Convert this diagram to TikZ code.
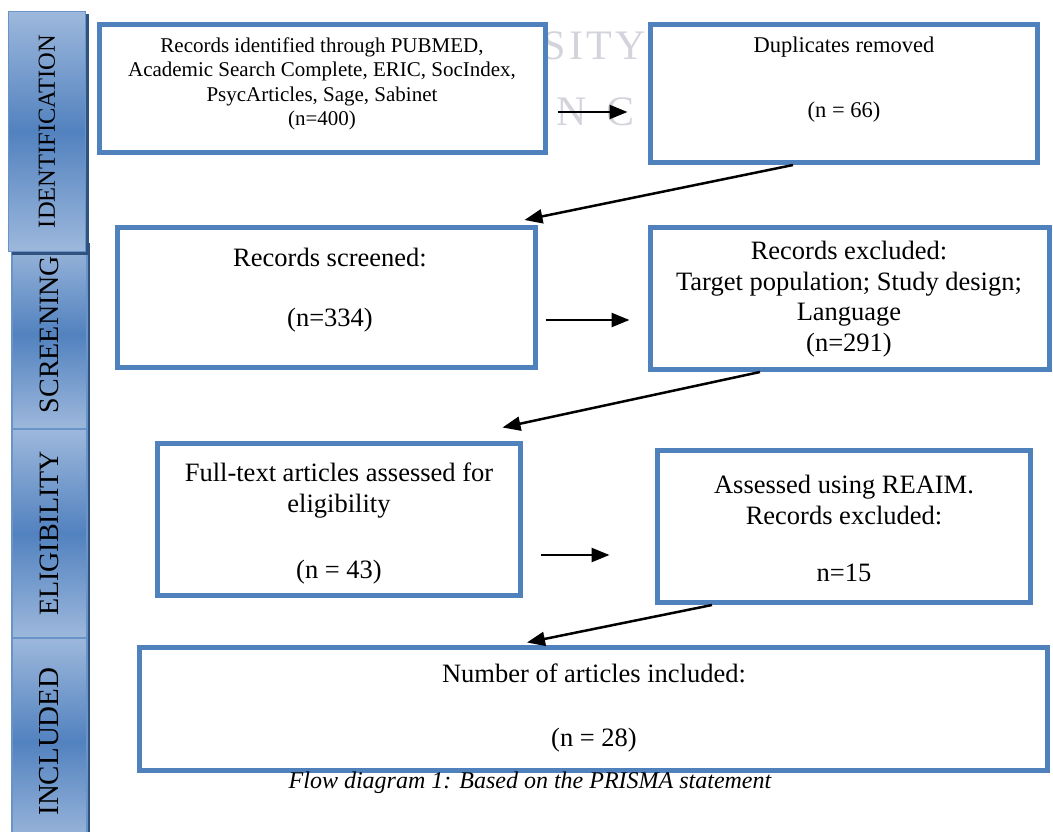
\documentclass[tikz,border=0pt]{standalone}
\usepackage{fontspec}
\setmainfont{Liberation Serif}
\usetikzlibrary{arrows.meta,positioning,shadows}

\definecolor{boxblue}{HTML}{4F81BD}
\definecolor{tablight}{HTML}{9DB8DC}
\definecolor{tabdark}{HTML}{5282BF}
\definecolor{tabedge}{HTML}{6A93C8}
\definecolor{tabshadow}{HTML}{30527F}
\definecolor{wmgray}{HTML}{D3D3DB}

\tikzset{
  flowbox/.style={draw=boxblue, line width=5pt, fill=white, inner sep=0pt},
  bigtxt/.style={align=center, inner sep=0pt, font=\fontsize{26.5}{30.5}\selectfont},
  smalltxt/.style={align=center, inner sep=0pt, font=\fontsize{21}{24.5}\selectfont},
  flowarrow/.style={line width=2.5pt, -{Triangle[length=18pt,width=14pt]}},
  stagetab/.style={draw=tabedge, line width=1.5pt, inner sep=0pt,
    top color=tablight, bottom color=tablight, middle color=tabdark,
    drop shadow={shadow xshift=3pt, shadow yshift=-3pt, fill=tabshadow, opacity=1}},
  watermark/.style={text=wmgray, inner sep=0pt, font=\fontsize{42}{44}\selectfont\addfontfeature{LetterSpace=8}}
}

\begin{document}
\begin{tikzpicture}[x=1pt, y=-1pt]
    \useasboundingbox (0,0) rectangle (1053,832);

    % faint watermark, only the part left uncovered
    \node[watermark, anchor=east] (wmtop) at (646,46) {SITY};
    \node[watermark, anchor=east] (wmleft) at (587,112) {N};
    \node[watermark, anchor=west] (wmright) at (606,112) {C};

    % stage tabs
    \node[stagetab, minimum width=75, minimum height=189, font=\fontsize{28}{30}\selectfont] (screentab) at (49.5,334.5) {\rotatebox{90}{SCREENING}};
    \node[stagetab, minimum width=75, minimum height=209, font=\fontsize{28}{30}\selectfont] (eligtab) at (49.5,533.5) {\rotatebox{90}{ELIGIBILITY}};
    \node[stagetab, minimum width=75, minimum height=207, font=\fontsize{29}{30}\selectfont] (incltab) at (49.5,741.5) {\rotatebox{90}{INCLUDED}};
    \node[stagetab, minimum width=77, minimum height=240, font=\fontsize{24.5}{26}\selectfont] (identtab) at (47,131.5) {\rotatebox{90}{IDENTIFICATION}};

    % flow boxes
    \node[flowbox, minimum width=446, minimum height=128] (ident) at (322.5,88.5) {};
    \node[flowbox, minimum width=387, minimum height=138] (dup) at (844,93.5) {};
    \node[flowbox, minimum width=418, minimum height=140] (scr) at (326.5,297.5) {};
    \node[flowbox, minimum width=399, minimum height=142] (excl) at (850,298.5) {};
    \node[flowbox, minimum width=363, minimum height=152] (full) at (339,519.5) {};
    \node[flowbox, minimum width=373, minimum height=152] (assess) at (844,526.5) {};
    \node[flowbox, minimum width=908, minimum height=123] (incl) at (593.5,709) {};

    % box texts
    \node[smalltxt] (identtxt) at (322,84) {Records identified through PUBMED,\\Academic Search Complete, ERIC, SocIndex,\\PsycArticles, Sage, Sabinet\\(n=400)};
    \node[smalltxt, font=\fontsize{22.5}{25.5}\selectfont] (duptxt) at (844,79.5) {Duplicates removed\\[39.5pt](n = 66)};
    \node[bigtxt] (scrtxt) at (330,290) {Records screened:\\[29.5pt](n=334)};
    \node[bigtxt] (excltxt) at (849,299) {Records excluded:\\Target population; Study design;\\Language\\(n=291)};
    \node[bigtxt] (fulltxt) at (339,523.5) {Full-text articles assessed for\\eligibility\\[36pt](n = 43)};
    \node[bigtxt] (assesstxt) at (844,528.5) {Assessed using REAIM.\\Records excluded:\\[26.5pt]n=15};
    \node[bigtxt] (incltxt) at (594,708) {Number of articles included:\\[33.5pt](n = 28)};

    % caption
    \node[inner sep=0pt, font=\fontsize{24}{27}\selectfont\itshape] (caption) at (530,783) {Flow diagram 1: Based on the PRISMA statement};

    % connectors
    \draw[flowarrow, shorten <=9.5pt, shorten >=20.5pt] ([yshift=-23.5pt]ident.east) -- ([yshift=-23.5pt]ident.east -| dup.west);
    \draw[flowarrow] ([xshift=-51pt]dup.south) -- ([xshift=-13.5pt, yshift=5pt]scr.north east);
    \draw[flowarrow, shorten <=7.5pt, shorten >=18.5pt] ([yshift=-22.5pt]scr.east) -- ([yshift=-22.5pt]scr.east -| excl.west);
    \draw[flowarrow] ([xshift=-90pt]excl.south) -- ([xshift=-20.5pt, yshift=13.5pt]full.north east);
    \draw[flowarrow, shorten <=17.5pt, shorten >=45.5pt] ([yshift=-35.5pt]full.east) -- ([yshift=-35.5pt]full.east -| assess.west);
    \draw[flowarrow] ([xshift=-132pt]assess.south) -- ([xshift=-66.5pt, yshift=2.5pt]incl.north);
\end{tikzpicture}
\end{document}
